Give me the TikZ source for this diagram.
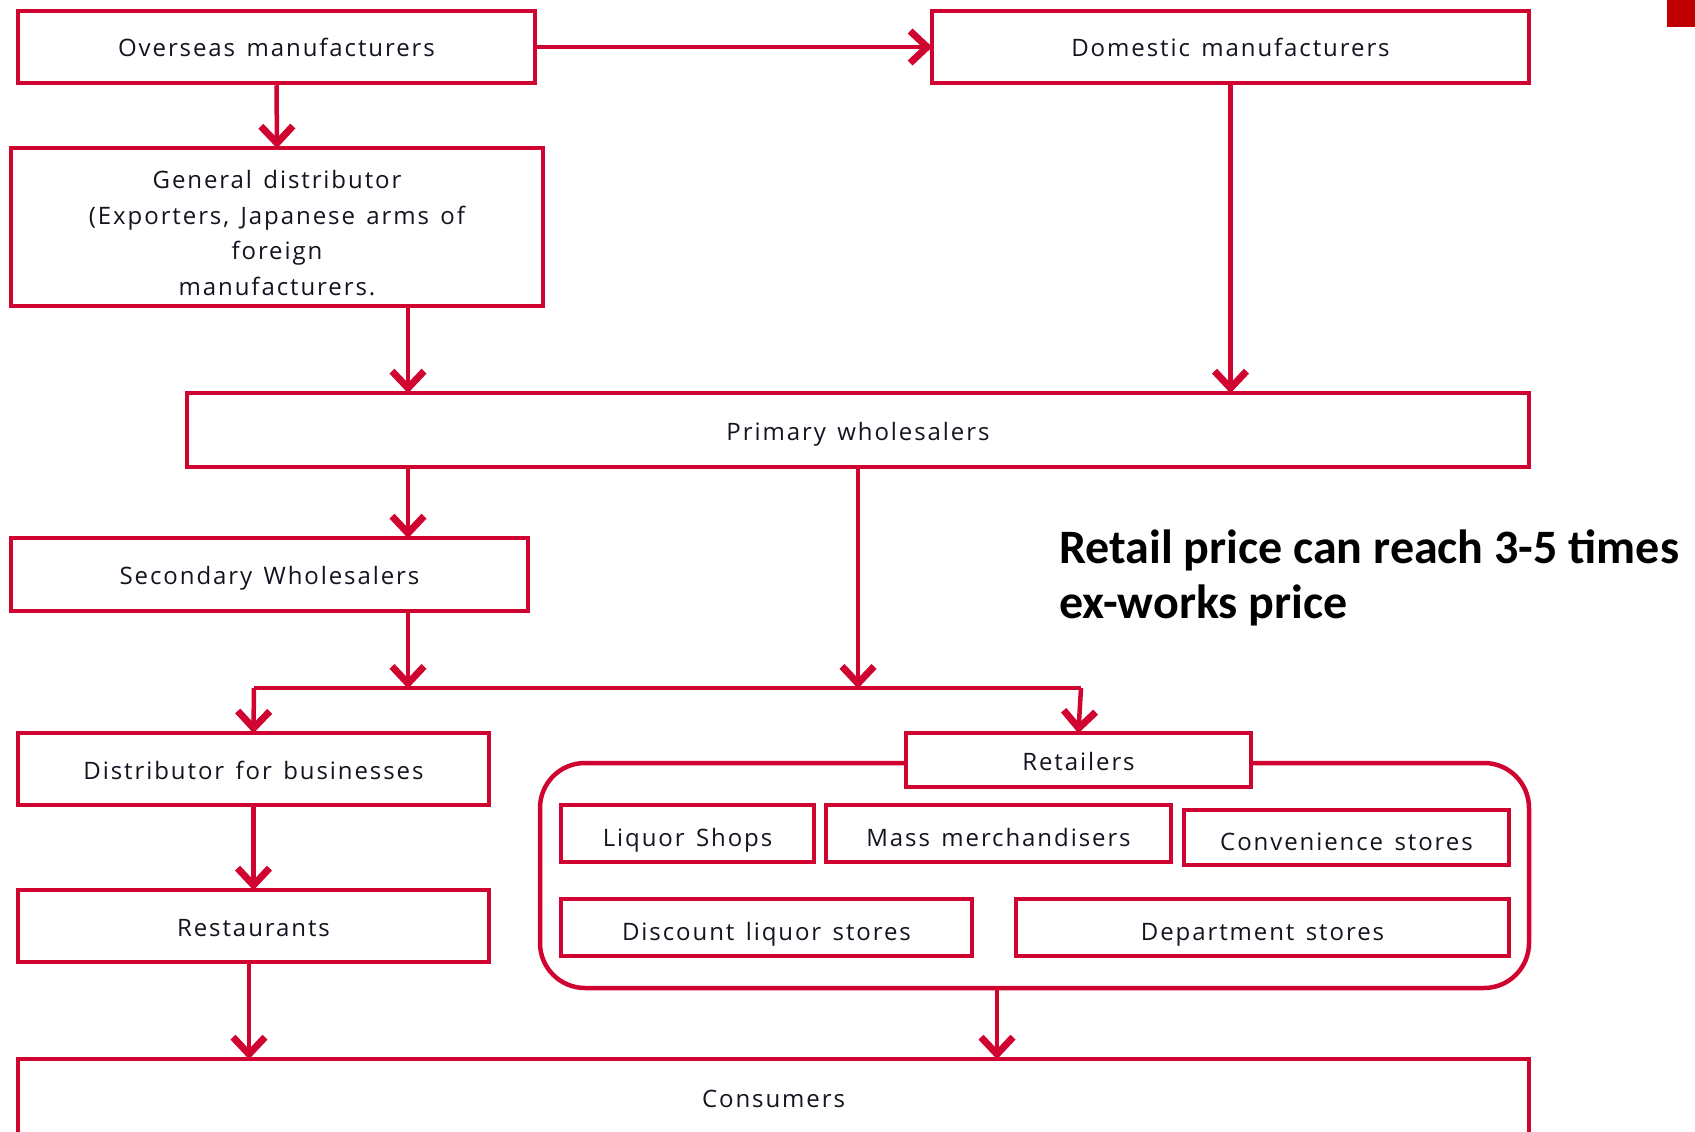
\documentclass[tikz,border=0pt]{standalone}
\usepackage{fontspec}
\setmainfont{Open Sans}[LetterSpace=8,WordSpace={1.4}]
\newfontfamily\calib{Carlito}
\usetikzlibrary{arrows.meta,calc}
\definecolor{boxred}{RGB}{208,4,48}
\definecolor{txt}{RGB}{20,20,32}
\definecolor{sq}{RGB}{192,0,0}
\tikzset{
  box/.style={draw=boxred, line width=4.5pt, fill=white, inner sep=0pt, text=txt,
    font=\fontsize{24}{36}\selectfont, align=center, text height=20pt, text depth=0pt},
  inbox/.style={box, text height=25pt},
  lbl/.style={inner sep=0pt, text=txt, font=\fontsize{24}{35.7}\selectfont, align=center},
  conn/.style={draw=boxred, line width=4.5pt, shorten >=-2.5pt, -{Straight Barb[length=17pt,width=32pt,line width=7pt]}},
  plain/.style={draw=boxred, line width=4.5pt},
  grp/.style={draw=boxred, line width=4.5pt, rounded corners=45pt}
}
\begin{document}
\begin{tikzpicture}[x=1pt,y=-1pt]
\useasboundingbox (0,0) rectangle (1695,1132);
\clip (0,0) rectangle (1695,1132);
\fill[sq] (1667,0) rectangle (1695,27);

\node[box, minimum width=517pt, minimum height=72pt] (over) at (276.5,47) {Overseas manufacturers};
\node[box, minimum width=597pt, minimum height=72pt] (dom) at (1230.5,47) {Domestic manufacturers};
\node[box, minimum width=532pt, minimum height=158pt] (gd) at (277,227) {};
\node[lbl] (gdtext) at ($(gd.center)+(0,6)$) {General distributor\\(Exporters, Japanese arms of\\foreign\\manufacturers.};
\node[box, minimum width=1342pt, minimum height=74pt] (prim) at (858,430) {Primary wholesalers};
\node[box, minimum width=517pt, minimum height=73pt] (sec) at (269.5,574.5) {Secondary Wholesalers};
\node[box, minimum width=471pt, minimum height=72pt] (dist) at (253.5,769) {Distributor for businesses};
\node[box, minimum width=471pt, minimum height=72pt] (rest) at (253.5,926) {Restaurants};

\draw[grp] (540,763) rectangle (1529,988);
\node[minimum width=989pt, minimum height=225pt, inner sep=0pt] (group) at (1034.5,875.5) {};
\node[box, minimum width=345pt, minimum height=54pt] (ret) at (1078.5,760) {Retailers};
\node[inbox, minimum width=253pt, minimum height=57pt] (liq) at (687.5,833.5) {Liquor Shops};
\node[inbox, minimum width=345pt, minimum height=57pt] (mass) at (998.5,833.5) {Mass merchandisers};
\node[inbox, minimum width=325pt, minimum height=55pt] (conv) at (1346.5,837.5) {Convenience stores};
\node[inbox, minimum width=411pt, minimum height=57pt] (disc) at (766.5,927.5) {Discount liquor stores};
\node[inbox, minimum width=493pt, minimum height=57pt] (dept) at (1262.5,927.5) {Department stores};
\node[box, minimum width=1511pt, minimum height=77pt] (cons) at (773.5,1097.5) {Consumers};

\node[anchor=base west, inner sep=0pt, text=black, font=\calib\bfseries\fontsize{48}{55}\selectfont, align=left] (note) at (1059,618) {Retail price can reach 3-5 times\\ex-works price};

\coordinate (cx) at (408,0);
\coordinate (hl) at (254,688);
\coordinate (hr) at (1081,688);
\coordinate (gx) at (997,0);
\coordinate (rx) at (249,0);

\draw[conn] (over.east) -- (dom.west);
\draw[conn] (over.south) -- (gd.north);
\draw[conn] (gd.south -| cx) -- (prim.north -| cx);
\draw[conn] (dom.south) -- (dom.south |- prim.north);
\draw[conn] (prim.south -| cx) -- (sec.north -| cx);
\draw[conn] (sec.south -| cx) -- ($(hl -| cx)+(0,-2)$);
\draw[conn] (prim.south) -- ($(prim.south |- hl)+(0,-2)$);
\draw[plain] (hl) -- (hr);
\draw[conn] (hl) -- (dist.north);
\draw[conn] (hr) -- (ret.north);
\draw[conn] (dist.south) -- (rest.north);
\draw[conn] (rest.south -| rx) -- (cons.north -| rx);
\draw[conn] (group.south -| gx) -- (cons.north -| gx);
\end{tikzpicture}
\end{document}
